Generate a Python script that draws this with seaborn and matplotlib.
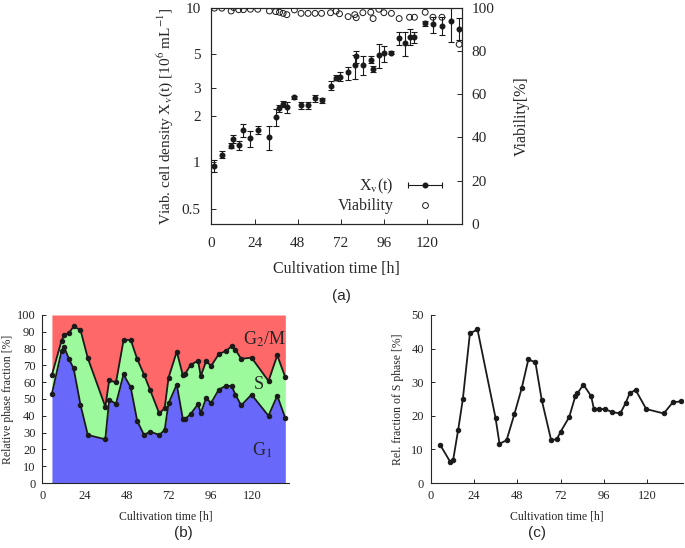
import numpy as np
import matplotlib
matplotlib.use('Agg')
import matplotlib.pyplot as plt
import seaborn as sns
from matplotlib.lines import Line2D
from matplotlib.legend_handler import HandlerErrorbar
from matplotlib.ticker import FixedLocator, NullLocator, FixedFormatter

# (a) viable cell density [1e6/mL] with error range, and viability [%]
t_xv = [1.7, 5.8, 11.0, 12.3, 15.2, 17.8, 21.7, 25.8, 32.3, 35.8, 37.9, 39.9, 42.0,
        46.2, 49.9, 53.8, 57.7, 61.3, 66.3, 69.4, 71.3, 76.1, 79.8, 80.6, 84.3, 88.7,
        90.0, 93.2, 96.0, 100.2, 104.5, 107.5, 110.3, 113.0, 119.0, 123.3, 128.3, 133.3, 137.9]
xv = [0.95, 1.11, 1.28, 1.41, 1.29, 1.61, 1.43, 1.62, 1.46, 1.96, 2.23, 2.39, 2.28,
      2.63, 2.33, 2.33, 2.59, 2.51, 3.13, 3.51, 3.56, 3.81, 4.27, 4.83, 4.27, 4.60,
      4.02, 4.95, 5.08, 5.12, 6.38, 5.88, 6.42, 6.42, 7.90, 7.82, 7.59, 8.17, 7.23]
xv_hi = [1.03, 1.18, 1.33, 1.50, 1.38, 1.78, 1.59, 1.71, 1.73, 2.20, 2.33, 2.48, 2.46,
         2.70, 2.45, 2.45, 2.74, 2.61, 3.37, 3.66, 3.81, 4.15, 4.95, 5.27, 4.83, 4.87,
         4.22, 5.82, 5.67, 5.25, 6.98, 6.98, 7.22, 6.92, 8.20, 8.63, 8.63, 10.0, 8.50]
xv_lo = [0.87, 1.06, 1.23, 1.34, 1.20, 1.46, 1.26, 1.52, 1.20, 1.73, 2.12, 2.29, 2.09,
         2.57, 2.20, 2.20, 2.46, 2.42, 2.92, 3.38, 3.33, 3.42, 3.47, 4.37, 3.68, 4.38,
         3.86, 4.06, 4.44, 5.00, 5.73, 4.83, 5.73, 5.93, 7.59, 6.81, 6.65, 6.02, 6.17]
t_via = [1.7, 5.8, 11.0, 12.3, 15.2, 17.8, 21.7, 25.8, 32.3, 35.8, 37.9, 39.9, 42.0,
         46.2, 49.9, 53.8, 57.7, 61.3, 66.3, 69.4, 71.3, 76.1, 79.8, 80.6, 84.3, 88.7,
         90.0, 93.2, 96.0, 100.2, 104.5, 110.3, 113.0, 119.0, 123.3, 128.3, 137.9]
via = [99.7, 99.7, 98.4, 100.0, 99.0, 99.0, 99.2, 99.2, 98.4, 98.1, 97.8, 97.3, 96.7,
       98.9, 97.3, 97.3, 97.3, 97.3, 97.6, 98.3, 97.1, 95.8, 96.7, 95.3, 97.6, 97.8,
       94.9, 99.2, 97.6, 97.3, 94.9, 95.5, 95.5, 97.8, 95.5, 95.5, 83.0]

# (b) relative phase fractions [%], (c) S phase [%]
t_phase = [5.4, 10.9, 12.4, 15.2, 17.8, 21.7, 25.9, 35.9, 38.1, 42.0, 46.3, 50.4,
           54.1, 58.0, 61.5, 66.7, 69.8, 72.0, 76.7, 80.2, 81.3, 84.6, 88.9, 90.4,
           93.5, 96.3, 100.7, 105.0, 108.1, 110.2, 113.5, 119.4, 129.1, 134.1, 138.7]
g1 = [53.2, 78.6, 81.0, 73.6, 68.2, 46.6, 28.6, 26.0, 49.4, 47.2, 64.6, 57.0,
      37.0, 28.6, 30.6, 28.6, 31.6, 47.4, 58.6, 38.0, 37.9, 41.0, 47.0, 41.6,
      50.6, 47.6, 55.6, 58.0, 57.6, 52.6, 46.2, 52.6, 40.0, 52.0, 38.6]
s_phase = [11.2, 6.2, 6.8, 15.8, 25.0, 44.5, 45.7, 19.4, 11.7, 12.7, 20.4, 28.2,
           36.8, 35.9, 24.7, 12.8, 13.0, 15.3, 19.6, 26.0, 26.7, 29.3, 25.8, 22.0,
           22.0, 22.0, 21.1, 20.7, 23.9, 26.7, 27.7, 22.0, 20.7, 24.0, 24.3]

sns.set_theme(style='ticks')
plt.rcParams['font.family'] = ['Liberation Serif', 'DejaVu Serif']
plt.rcParams['mathtext.fontset'] = 'stix'
plt.rcParams['axes.linewidth'] = 0.8

fig = plt.figure(figsize=(6.85, 5.48), dpi=100)

# ---- (a)
ax = fig.add_axes([0.3073, 0.5912, 0.3672, 0.3951])
ax.errorbar(t_xv, xv, yerr=[np.subtract(xv, xv_lo), np.subtract(xv_hi, xv)],
            fmt='o', color='k', ms=3.3, capsize=2.2, elinewidth=0.8, capthick=0.8)
ax.set_yscale('log')
ax.set_ylim(0.4, 10)
ax.set_xlim(-0.5, 139.5)
ax.yaxis.set_major_locator(FixedLocator([0.5, 1, 2, 3, 5, 10]))
ax.yaxis.set_major_formatter(FixedFormatter(['0.5', '1', '2', '3', '5', '10']))
ax.yaxis.set_minor_locator(NullLocator())
ax.set_xticks([0, 24, 48, 72, 96, 120])
ax.tick_params(direction='in', length=3.5, labelsize=11, width=0.7, pad=7)
ax.tick_params(axis='x', pad=9)
ax.set_xlabel('Cultivation time [h]', fontsize=11.5, labelpad=8)
ax.set_ylabel(r'Viab. cell density X$_\mathrm{v}$(t) [10$^6$ mL$^{-1}$]', fontsize=11, labelpad=5)

ax2 = ax.twinx()
sns.scatterplot(x=t_via, y=via, ax=ax2, marker='o', facecolor='none',
                edgecolor='k', linewidth=0.7, s=18)
ax2.set_ylim(0, 100)
ax2.set_yticks([0, 20, 40, 60, 80, 100])
ax2.tick_params(direction='in', length=3.5, labelsize=11, width=0.7, pad=7)
ax2.set_ylabel('Viability[%]', fontsize=11.5, labelpad=14)

proxy = ax.errorbar([np.nan], [np.nan], xerr=[[1.0], [1.0]], fmt='o', color='k',
                    ms=3.3, capsize=2.2, elinewidth=0.8, capthick=0.8)
via_h = Line2D([], [], ls='none', marker='o', mfc='none', mec='k', mew=0.7, ms=4.2)
ax2.legend([proxy, via_h], [r'X$_\mathrm{v}$(t)', 'Viability'], loc='lower right',
           bbox_to_anchor=(0.955, 0.015), frameon=False, markerfirst=False,
           handlelength=2.4, handletextpad=0.8, labelspacing=0.15, borderaxespad=0,
           fontsize=11.5, handler_map={proxy: HandlerErrorbar(xerr_size=1.05)})

# ---- (b)
red, green, blue = '#ff6868', '#9cfa9c', '#6868fa'
upper = np.add(g1, s_phase)
axb = fig.add_axes([0.062, 0.1186, 0.3604, 0.3066])
axb.fill_between(t_phase, 0, g1, color=blue, lw=0)
axb.fill_between(t_phase, g1, upper, color=green, lw=0)
axb.fill_between(t_phase, upper, 100, color=red, lw=0)
sns.lineplot(x=t_phase, y=g1, ax=axb, color='k', lw=1.3, marker='o', ms=3.2, mec='k')
sns.lineplot(x=t_phase, y=upper, ax=axb, color='k', lw=1.3, marker='o', ms=3.2, mec='k')
axb.text(126.5, 85.6, 'G$_2$/M', fontsize=13, ha='center', va='center')
axb.text(123.8, 58.6, 'S', fontsize=13, ha='center', va='center')
axb.text(125.5, 19.6, 'G$_1$', fontsize=13, ha='center', va='center')
axb.set_xlim(0, 141)
axb.set_ylim(0, 100)
axb.set_xticks([0, 24, 48, 72, 96, 120])
axb.set_yticks(range(0, 101, 10))
axb.set_ylabel('Relative phase fraction [%]', fontsize=8.5, labelpad=2)
axb.set_xlabel('Cultivation time [h]', fontsize=8.5, labelpad=6)

# ---- (c)
axc = fig.add_axes([0.6288, 0.1186, 0.3689, 0.3066])
sns.lineplot(x=t_phase, y=s_phase, ax=axc, color='k', lw=1.3, marker='o', ms=3.2, mec='k')
axc.set_xlim(0, 140)
axc.set_ylim(0, 50)
axc.set_xticks([0, 24, 48, 72, 96, 120])
axc.set_yticks(range(0, 51, 10))
axc.set_ylabel('Rel. fraction of S phase [%]', fontsize=8.5, labelpad=5)
axc.set_xlabel('Cultivation time [h]', fontsize=8.5, labelpad=6)

for a in (axb, axc):
    sns.despine(ax=a)
    a.tick_params(direction='in', length=3, labelsize=9, width=0.7, pad=5)

fig.text(341 / 685, 1 - 296 / 548, '(a)', ha='center', va='center', family='Liberation Sans', fontsize=11)
fig.text(183 / 685, 1 - 533 / 548, '(b)', ha='center', va='center', family='Liberation Sans', fontsize=11)
fig.text(537 / 685, 1 - 533 / 548, '(c)', ha='center', va='center', family='Liberation Sans', fontsize=11)

fig.savefig('out.png', dpi=100)
